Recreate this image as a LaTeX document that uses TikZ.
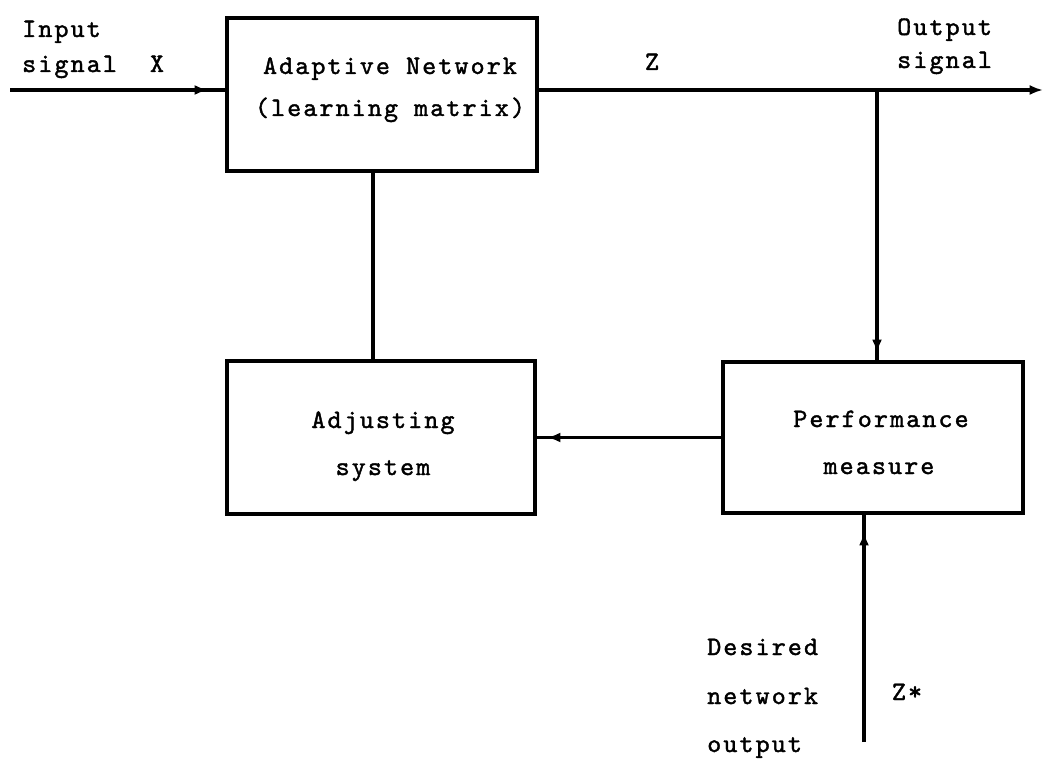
\documentclass[tikz,border=0pt]{standalone}
\usepackage{fontspec}
\usetikzlibrary{arrows.meta,decorations.markings}
\newfontfamily\tw{lmmono10-regular.otf}[LetterSpace=8,FakeBold=1.5]
\tikzset{
  blk/.style n args={2}{draw, line width=3.1pt, inner sep=0pt,
    minimum width=#1*0.75pt, minimum height=#2*0.75pt},
  conn/.style={line width=2.5pt},
  lbl/.style={font=\tw\fontsize{20}{24}\selectfont, inner sep=0pt, anchor=base},
  lbll/.style={lbl, anchor=base west},
  amark/.style={postaction={decorate,decoration={markings,
    mark=at position #1 with {\arrow{Latex[length=10pt,width=7.5pt]}}}}},
}
\begin{document}
\begin{tikzpicture}[x=0.75pt,y=-0.75pt]
\useasboundingbox (0,0) rectangle (1044,762);
% boxes
\node[blk={310}{153}] (an) at (382,94.5) {};
\node[blk={308}{153}] (adj) at (381,437.5) {};
\node[blk={300}{151}] (pm) at (873,437.5) {};
% box texts
\node[lbl] (an1) at (390,74) {Adaptive Network};
\node[lbl] (an2) at (390,116) {(learning matrix)};
\node[lbl] (adj1) at (383,428) {Adjusting};
\node[lbl] (adj2) at (383,475) {system};
\node[lbl] (pm1) at (881,427) {Performance};
\node[lbl] (pm2) at (879,474) {measure};
% outer labels
\node[lbll] (inl1) at (22,37) {Input};
\node[lbll] (inl2) at (22,72) {signal};
\node[lbl] (xl) at (157,72) {X};
\node[lbl] (zl) at (652,70) {Z};
\node[lbll] (outl1) at (897,35) {Output};
\node[lbll] (outl2) at (897,68) {signal};
\node[lbll] (d1) at (707,655) {Desired};
\node[lbll] (d2) at (707,704) {network};
\node[lbll] (d3) at (707,752) {output};
\node[lbl] (zs) at (907,700) {Z*};
% connector ends
\coordinate (inA) at (10,90);
\coordinate (outE) at (1043,90);
\coordinate (br) at (877,90);
\coordinate (v1) at (373,300);
\coordinate (zst) at (864,742);
% connectors
\draw[conn,amark=-12.75pt] (inA) -- (inA -| an.west);
\draw[conn,-{Latex[length=10pt,width=7.5pt]}] (an.east |- inA) -- (outE);
\draw[conn,amark=-5.25pt] (br) -- (br |- pm.north);
\draw[conn] (an.south -| v1) -- (v1 |- adj.north);
\draw[conn,amark=-7.5pt] (pm.west) -- (adj.east);
\draw[conn,amark=-12.75pt] (zst) -- (zst |- pm.south);
\end{tikzpicture}
\end{document}
